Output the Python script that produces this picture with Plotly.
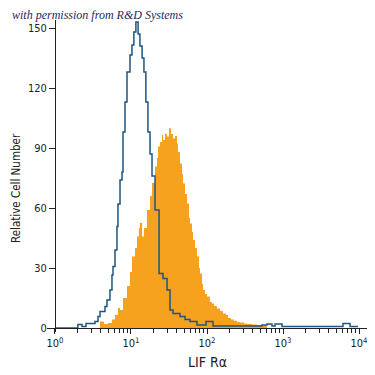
import plotly.graph_objects as go

# Isotype control (blue outline histogram): intensity, count
control_x = [1.0, 2.0, 2.27, 2.56, 3.36, 3.68, 3.91, 4.55, 4.83, 5.29, 5.62, 5.80, 6.16, 6.54,
             6.74, 7.17, 7.62, 7.85, 8.34, 8.86, 9.70, 10.3, 10.9, 11.6, 12.4, 13.1, 14.0,
             14.8, 15.7, 16.7, 17.8, 18.9, 20.7, 23.4, 26.4, 29.8, 32.6, 35.7, 44.1, 51.4,
             59.7, 73.8, 97.0, 120, 529, 615, 716, 785, 970, 6150, 7620, 9700]
control_y = [0, 1.8, 0.7, 2.3, 3.2, 5.7, 8.2, 10.7, 14, 19, 26.5, 30.7, 39, 50.7,
             62, 74, 78, 98, 113, 128, 136.5, 141.5, 148, 153, 147, 141, 135,
             128, 113, 98, 87, 76, 59, 27.3, 24.8, 19, 9, 7.3, 5.7, 4.3,
             3.2, 1.5, 3.2, 1, 1.5, 2, 1, 2, 0.7, 2.3, 0.7, 0.7]

# LIF R alpha stained cells (filled orange histogram): intensity, count
stained_x = [3.91, 4.41, 4.98, 5.62, 6.16, 6.74, 7.17, 7.85, 8.86, 9.70, 10.3, 11.3, 12.0,
             12.7, 13.1, 14.0, 14.8, 16.2, 17.8, 18.9, 20.7, 22.0, 22.7, 24.1, 25.6, 26.4,
             28.0, 29.8, 31.6, 32.6, 33.6, 35.7, 37.9, 40.3, 41.5, 44.1, 46.9, 48.3, 51.4,
             54.6, 58.0, 59.7, 63.5, 65.5, 69.5, 73.8, 78.5, 80.9, 86.0, 88.5, 94.1, 100,
             109, 116, 124, 135, 148, 162, 178, 189, 207, 226, 248, 272, 307, 336, 391,
             455, 529, 597, 615]
stained_y = [3.2, 2, 2.5, 4.3, 6.5, 10, 9, 15, 21, 28, 35.7, 40, 45.7,
             50, 52.5, 45.7, 50, 59, 66, 72.5, 80.7, 85, 90.7, 93, 96.5, 94,
             97, 95.7, 100, 99.8, 97, 94.8, 96, 92.3, 88, 82.3, 77, 72.3, 67,
             62.3, 55, 52.3, 48, 44, 40, 35.7, 30, 27.3, 22, 19, 17, 15.7,
             13, 12.3, 11, 9.8, 8.5, 7.3, 6.5, 5, 4.2, 3.6, 3, 2.7, 2.2, 2, 1.7,
             1.5, 1.3, 1.0, 0]

x_tickvals = [1, 10, 100, 1000, 10000]
x_ticktext = ["10<sup>0</sup>", "10<sup>1</sup>", "10<sup>2</sup>", "10<sup>3</sup>", "10<sup>4</sup>"]
x_minor = [m * 10 ** d for d in range(4) for m in range(2, 10)]
y_tickvals = [0, 30, 60, 90, 120, 150]

FONT = "Liberation Sans Narrow, DejaVu Sans Condensed, Arial Narrow, Liberation Sans, sans-serif"
AX = "#222222"

# page body has an 8px margin; work in page pixels and convert
OFF = 8
SIZE = 375 - OFF

fig = go.Figure()
fig.add_trace(go.Scatter(x=stained_x, y=stained_y, mode="lines", line_shape="hv",
                         line=dict(width=0, color="#F6A21E"), fill="tozeroy",
                         fillcolor="#F6A21E", hoverinfo="skip"))
fig.add_trace(go.Scatter(x=control_x, y=control_y, mode="lines", line_shape="hv",
                         line=dict(width=1.5, color="#1f5580"), hoverinfo="skip"))

left_px, right_px, top_px, bot_px = 47, 368, 20, 332  # page pixels
L = left_px - OFF
T = top_px - OFF
R = SIZE - (right_px - OFF)
B = SIZE - (bot_px - OFF)
W = right_px - left_px
H = bot_px - top_px
ypos = (55 - left_px) / W
xpos = (bot_px - 328) / H


def px(xp):
    return (xp - left_px) / W


def py(yp):
    return (bot_px - yp) / H


fig.update_layout(
    width=SIZE, height=SIZE, margin=dict(l=L, r=R, t=T, b=B, autoexpand=False),
    paper_bgcolor="white", plot_bgcolor="white", showlegend=False,
    font=dict(family=FONT, size=11, color=AX),
    xaxis=dict(type="log", range=[-0.105, 4.118], tickvals=x_tickvals, ticktext=x_ticktext,
               ticks="outside", ticklen=5, tickcolor=AX, showline=True, linecolor=AX,
               linewidth=1, showgrid=False, zeroline=False, anchor="free", position=xpos,
               tickfont=dict(size=11), automargin=False,
               minor=dict(tickvals=x_minor, ticks="outside", ticklen=4, tickcolor=AX, showgrid=False)),
    yaxis=dict(range=[-2, 154], tickvals=y_tickvals, ticks="outside", ticklen=6, tickcolor=AX,
               showline=True, linecolor=AX, linewidth=1, showgrid=False, zeroline=False,
               anchor="free", position=ypos, tickfont=dict(size=11), automargin=False),
)
fig.add_annotation(text="Relative Cell Number", xref="paper", yref="paper",
                   x=px(16), y=py(188), textangle=-90, showarrow=False,
                   font=dict(family=FONT, size=11.5, color=AX), xanchor="center", yanchor="middle")
fig.add_annotation(text="LIF R\u03b1", xref="paper", yref="paper",
                   x=px(207), y=py(362), showarrow=False,
                   font=dict(family=FONT, size=14, color=AX), xanchor="center", yanchor="middle")
fig.add_annotation(text="<i>with permission from R&amp;D Systems</i>", xref="paper", yref="paper",
                   x=px(10), y=py(15), showarrow=False, xanchor="left", yanchor="middle",
                   font=dict(family="Liberation Serif, DejaVu Serif, serif", size=12, color="#1c2a5c"))
fig.write_html("out.html")
